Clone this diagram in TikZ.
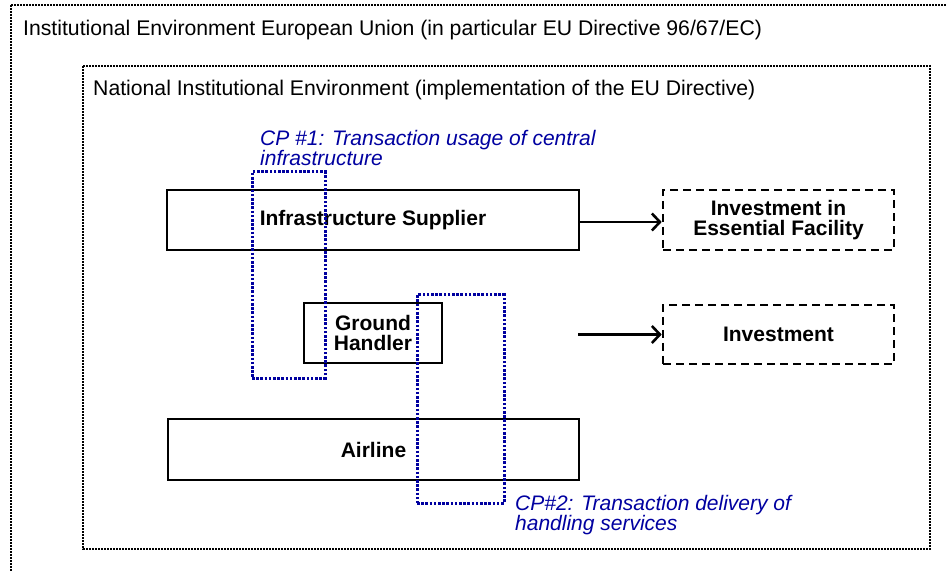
\documentclass[tikz,border=0pt]{standalone}
\usepackage{fontspec}
\setmainfont{Liberation Sans}
\usetikzlibrary{arrows.meta}
\definecolor{cpblue}{RGB}{0,0,160}
\tikzset{
  envbox/.style={draw=black, line width=1.6pt, dash pattern=on 2pt off 1pt},
  envlabel/.style={anchor=base west, inner sep=0pt, font=\fontsize{21.2}{20}\selectfont},
  actor/.style={draw=black, line width=2.6pt, inner sep=0pt, align=center,
    font=\fontsize{21}{20}\selectfont\bfseries},
  invbox/.style={draw=black, line width=2.6pt, dash pattern=on 8pt off 5pt, inner sep=0pt,
    align=center, font=\fontsize{21}{20}\selectfont\bfseries},
  cpbox/.style={draw=cpblue, line width=3pt, dash pattern=on 2.6pt off 1.6pt, inner sep=0pt},
  cplabel/.style={text=cpblue, anchor=north west, inner sep=0pt, align=left,
    font=\fontsize{21}{20}\selectfont\itshape},
  flow/.style={draw=black, line width=2.8pt, -{Straight Barb[length=8pt,width=17pt,line width=2.6pt]}}
}
\begin{document}
\begin{tikzpicture}[x=1pt,y=-1pt]
\useasboundingbox (0,0) rectangle (946,572);
\clip (0,0) rectangle (946,572);
% outer environments
\draw[envbox] (11,5) rectangle (960,590);
\node[envlabel] (eulabel) at (23,36) {Institutional Environment European Union (in particular EU Directive 96/67/EC)};
\draw[envbox] (83,66) rectangle (930,549);
\node[envlabel] (natlabel) at (93,96) {National Institutional Environment (implementation of the EU Directive)};
% actor boxes
\node[actor, minimum width=412pt, minimum height=60pt] (sup) at (373,220) {Infrastructure Supplier};
\node[actor, minimum width=138pt, minimum height=60pt] (gh) at (373,333) {Ground\\Handler};
\node[actor, minimum width=411pt, minimum height=61pt] (air) at (373.5,449.5) {Airline};
% investment boxes
\node[invbox, minimum width=231pt, minimum height=60pt] (ief) at (778.5,220) {Investment in\\Essential Facility};
\node[invbox, minimum width=231pt, minimum height=59pt] (inv) at (778.5,334.5) {Investment};
% control points
\node[cpbox, minimum width=73pt, minimum height=206pt] (cp1) at (288.5,275) {};
\node[cpbox, minimum width=87pt, minimum height=208pt] (cp2) at (460.5,399) {};
\node[cplabel] (cp1label) at (260,130) {CP \#1: Transaction usage of central\\infrastructure};
\node[cplabel] (cp2label) at (515,495) {CP\#2: Transaction delivery of\\handling services};
% arrows
\draw[flow] ([yshift=-2pt]sup.east) -- ([yshift=-2pt]ief.west);
\coordinate (invstart) at (578,334.5);
\draw[flow] (invstart) -- (inv.west);
\end{tikzpicture}
\end{document}
